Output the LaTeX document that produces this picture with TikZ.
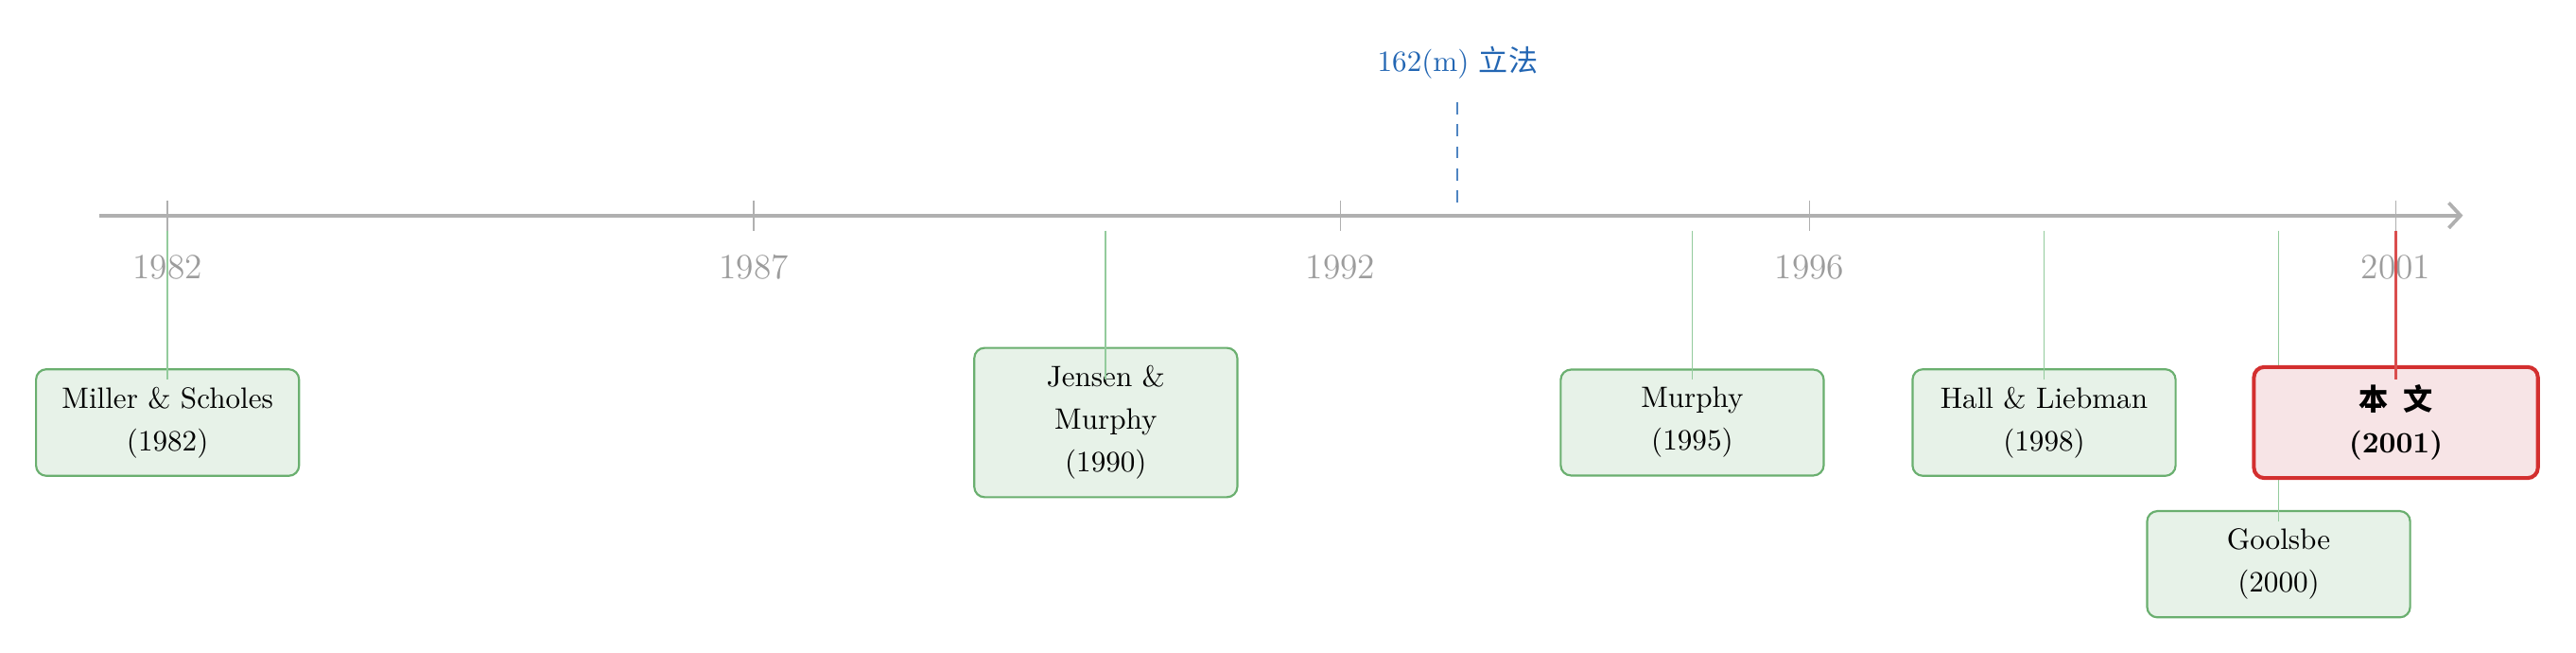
\documentclass[tikz,border=0pt]{standalone}
\usepackage{fontspec}
\newfontfamily\cjk{Noto Sans CJK SC}
\usepackage{xcolor}
\usetikzlibrary{calc,arrows.meta,positioning}

\definecolor{axisgray}{HTML}{B0B0B0}
\definecolor{yeargray}{HTML}{9C9C9C}
\definecolor{lawblue}{HTML}{2366B3}
\definecolor{paperfill}{HTML}{E7F2E8}
\definecolor{paperdraw}{HTML}{6AAF6F}
\definecolor{stemgreen}{HTML}{93CB9C}
\definecolor{ownfill}{HTML}{F7E4E6}
\definecolor{owndraw}{HTML}{D32F2F}

\begin{document}
\begin{tikzpicture}[
  paper/.style={draw=paperdraw,line width=0.7pt,fill=paperfill,rounded corners=3.5pt,
    text width=2.7cm,align=center,inner xsep=0.22cm,inner ysep=6pt,
    font=\fontsize{10}{14.5}\selectfont},
  ownpaper/.style={paper,draw=owndraw,fill=ownfill,line width=1.3pt,text width=2.95cm},
  stem/.style={stemgreen,line width=0.6pt},
  yearlbl/.style={yeargray,font=\large}
]
\useasboundingbox (-2.0,-5.21) rectangle (28.75,2.57);
\coordinate (top) at (0,-0.18);
\coordinate (bot) at (0,-1.96);
\coordinate (start) at (-0.82,0);
\coordinate (finish) at (27.4,0);

% time axis
\draw[axisgray,line width=1.2pt,-{Straight Barb[length=1.4mm,width=3mm]}] (start) -- (finish);
\foreach \yr in {1982,1987,1992,1996,2001}{
  \draw[axisgray,line width=0.5pt] ({(\yr-1982)*1.4},0.18) -- ({(\yr-1982)*1.4},-0.18);
  \node[yearlbl] (y\yr) at ({(\yr-1982)*1.4},-0.62) {\yr};
}

% 162(m)
\node[lawblue] (law) at (15.4,1.82) {162(m) {\cjk 立法}};
\coordinate (l1) at (15.4,1.35);
\coordinate (l2) at (15.4,0.14);
\draw[lawblue!80,line width=0.6pt,dash pattern=on 4pt off 3.5pt] (l1) -- (l2);

% papers
\node[paper] (m82) at (0,-2.47) {Miller \& Scholes\\(1982)};
\node[paper] (j90) at (11.2,-2.47) {Jensen \&\\Murphy\\(1990)};
\node[paper] (m95) at (18.2,-2.47) {Murphy\\(1995)};
\node[paper] (h98) at (22.4,-2.47) {Hall \& Liebman\\(1998)};
\node[paper] (g00) at (25.2,-4.16) {Goolsbe\\(2000)};

\draw[stem] (m82 |- top) -- (m82 |- bot);
\draw[stem] (j90 |- top) -- (j90 |- bot);
\draw[stem] (m95 |- top) -- (m95 |- bot);
\draw[stem] (h98 |- top) -- (h98 |- bot);
\draw[stem] (g00 |- top) -- ($(g00.north)+(0,-0.14)$);

% this paper
\node[ownpaper] (bw01) at (26.6,-2.47) {\textbf{\cjk 本\enspace 文}\\ \textbf{(2001)}};
\draw[owndraw!85,line width=0.7pt] (bw01 |- top) -- (bw01 |- bot);
\end{tikzpicture}
\end{document}
